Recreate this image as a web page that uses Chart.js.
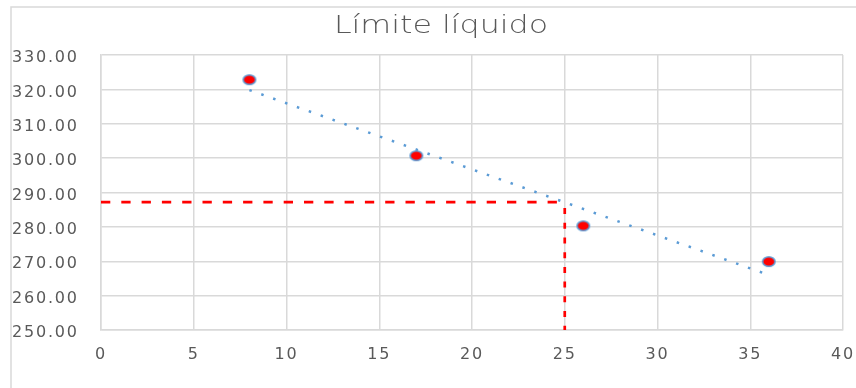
<!DOCTYPE html>
<html>
<head>
<meta charset="utf-8">
<script src="https://cdn.jsdelivr.net/npm/chart.js@4"></script>
<style>
  html, body { margin: 0; padding: 0; background: #ffffff; }
  #wrap { width: 856px; height: 388px; position: relative; }
</style>
</head>
<body>
<div id="wrap"><canvas id="c"></canvas></div>
<script>
// Liquid limit test: number of blows vs. moisture content
const chartTitle = 'Límite líquido';
const blowsX = [8, 17, 26, 36];
const moistureY = [322.8, 300.7, 280.3, 269.9];

// Linear trendline endpoints
const trendX = [8, 36];
const trendY = [319.8, 266.0];

// Liquid limit read at 25 blows
const limitBlows = 25;
const limitMoisture = 287.2;

const xTicks = [0, 5, 10, 15, 20, 25, 30, 35, 40];
const yTicks = [250, 260, 270, 280, 290, 300, 310, 320, 330];

const FONT = '"DejaVu Sans", sans-serif';
const TEXT = '#595959';
const GRID = '#D9D9D9';

// Red-filled, blue-rimmed marker
const marker = document.createElement('canvas');
marker.width = 16; marker.height = 13;
(function () {
  const m = marker.getContext('2d');
  m.beginPath();
  m.ellipse(8, 6.5, 6.2, 4.8, 0, 0, Math.PI * 2);
  m.fillStyle = '#FF0000';
  m.fill();
  m.lineWidth = 1.5;
  m.strokeStyle = '#5B9BD5';
  m.stroke();
})();

const pts = (xs, ys) => xs.map((x, i) => ({ x, y: ys[i] }));

const frameAndTitle = {
  id: 'frameAndTitle',
  beforeDraw(chart) {
    const ctx = chart.ctx;
    ctx.save();
    ctx.strokeStyle = GRID;
    ctx.lineWidth = 1.5;
    ctx.beginPath();
    ctx.moveTo(11, 388);
    ctx.lineTo(11, 7);
    ctx.lineTo(856, 7);
    ctx.stroke();
    ctx.restore();
    ctx.letterSpacing = '1.8px';
  },
  afterDraw(chart) {
    const ctx = chart.ctx;
    ctx.save();
    ctx.letterSpacing = '0px';
    ctx.font = '200 24px ' + FONT;
    ctx.fillStyle = TEXT;
    ctx.textAlign = 'center';
    ctx.textBaseline = 'alphabetic';
    ctx.translate(441, 33);
    ctx.scale(1.32, 1);
    ctx.fillText(chartTitle, 0, 0);
    ctx.restore();
  }
};

new Chart(document.getElementById('c'), {
  type: 'scatter',
  data: {
    datasets: [
      {
        label: 'Ensayos',
        data: pts(blowsX, moistureY),
        pointStyle: marker,
        pointRadius: 6,
        showLine: false,
        order: 0
      },
      {
        label: 'Tendencia',
        data: pts(trendX, trendY),
        showLine: true,
        pointRadius: 0,
        borderColor: '#5B9BD5',
        borderWidth: 2.5,
        borderDash: [2.5, 10.1],
        borderCapStyle: 'butt',
        order: 1
      },
      {
        label: 'LL horizontal',
        data: pts([0, limitBlows], [limitMoisture, limitMoisture]),
        showLine: true,
        pointRadius: 0,
        borderColor: '#FF0000',
        borderWidth: 2.6,
        borderDash: [9.3, 11],
        order: 2
      },
      {
        label: 'LL vertical',
        data: pts([limitBlows, limitBlows], [250, limitMoisture]),
        showLine: true,
        pointRadius: 0,
        borderColor: '#FF0000',
        borderWidth: 2.7,
        borderDash: [6, 8.7],
        borderDashOffset: 1.7,
        order: 2
      }
    ]
  },
  options: {
    responsive: true,
    maintainAspectRatio: false,
    animation: false,
    devicePixelRatio: 1,
    layout: { padding: { left: 12, top: 55, right: 13, bottom: 0 } },
    plugins: {
      legend: { display: false },
      title: { display: false },
      tooltip: { enabled: false }
    },
    scales: {
      x: {
        type: 'linear',
        min: 0, max: 40,
        afterBuildTicks: s => { s.ticks = xTicks.map(v => ({ value: v })); },
        afterFit: s => { s.height = 58; s.paddingLeft = 0; s.paddingRight = 0; },
        grid: { color: GRID, lineWidth: 1.5, drawTicks: false },
        border: { color: GRID, width: 1.5 },
        ticks: {
          padding: 15,
          color: TEXT,
          font: { family: FONT, size: 16 },
          maxRotation: 0
        }
      },
      y: {
        type: 'linear',
        min: 250, max: 330,
        afterBuildTicks: s => { s.ticks = yTicks.map(v => ({ value: v })); },
        afterFit: s => { s.width = 89; s.paddingTop = 0; s.paddingBottom = 0; },
        grid: { color: GRID, lineWidth: 1.5, drawTicks: false },
        border: { color: GRID, width: 1.5 },
        ticks: {
          crossAlign: 'far',
          labelOffset: 3,
          color: TEXT,
          font: { family: FONT, size: 16 },
          callback: v => Number(v).toFixed(2)
        }
      }
    }
  },
  plugins: [frameAndTitle]
});
</script>
</body>
</html>
